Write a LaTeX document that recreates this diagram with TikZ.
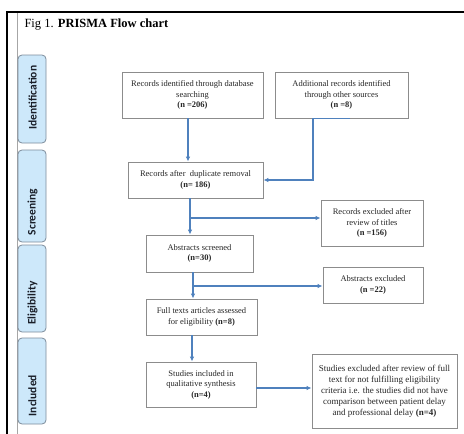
\documentclass[tikz,border=0pt]{standalone}
\usepackage{fontspec}
\setmainfont{Liberation Serif}
\newfontfamily\tabfont{Carlito}
\usepackage{tikz}
\usetikzlibrary{arrows.meta,positioning}
\definecolor{flowblue}{RGB}{79,129,189}
\definecolor{tabfill}{RGB}{205,232,250}
\definecolor{tabedge}{RGB}{125,140,155}
\definecolor{tabink}{RGB}{25,30,40}
\definecolor{boxedge}{RGB}{140,140,140}

\begin{document}
\begin{tikzpicture}[x=1pt,y=-1pt,
  box/.style={draw=boxedge,line width=0.8pt,align=center,inner sep=0pt,text=black!85,font=\fontsize{8.5}{10.5}\selectfont},
  tabbox/.style={draw=tabedge,fill=tabfill,rounded corners=4pt,line width=0.8pt,minimum width=28pt,inner sep=0pt},
  tabtext/.style={rotate=90,inner sep=0pt,text=tabink,font=\tabfont\bfseries\fontsize{11.5}{12}\selectfont},
  flow/.style={draw=flowblue,line width=1.3pt,-{Latex[length=5pt,width=4.5pt]}}]
\useasboundingbox (0,0) rectangle (464,434);
% frame of the figure
\draw[line width=2.5pt] (7,434) -- (7,12) -- (464,12);
\draw[black!35,line width=0.6pt] (17,13) -- (17,434);
\node[anchor=base west,font=\fontsize{12.5}{14}\selectfont] (title) at (21,27) {Fig 1. \textbf{PRISMA Flow chart}};
% stage tabs
\node[tabbox,minimum height=88pt] (identification) at (32,99) {};
\node[tabbox,minimum height=92pt] (screening) at (32,196) {};
\node[tabbox,minimum height=87pt] (eligibility) at (32,288.5) {};
\node[tabbox,minimum height=86pt] (includedtab) at (32,381) {};
\node[tabtext] (identificationlabel) at (32.5,97.5) {Identification};
\node[tabtext] (screeninglabel) at (32.5,212) {Screening};
\node[tabtext] (eligibilitylabel) at (32.5,303) {Eligibility};
\node[tabtext] (includedlabel) at (32.5,395.5) {Included};
% boxes
\node[box,minimum width=141pt,minimum height=46pt] (database) at (192.5,95) {Records identified through database\\searching\\\textbf{(n =206)}};
\node[box,minimum width=133pt,minimum height=46pt] (othersources) at (341.5,95) {Additional records identified\\through other sources\\\textbf{(n =8)}};
\node[box,minimum width=135pt,minimum height=36pt] (duplicates) at (195.5,180) {Records after\ \ duplicate removal\\\textbf{(n= 186)}};
\node[box,minimum width=102pt,minimum height=46pt] (titlesexcl) at (372,223) {Records excluded after\\review of titles\\\textbf{(n =156)}};
\node[box,minimum width=107pt,minimum height=37pt] (abstracts) at (199.5,253.5) {Abstracts screened\\\textbf{(n=30)}};
\node[box,minimum width=100pt,minimum height=36pt] (abstractsexcl) at (373,285) {Abstracts excluded\\\textbf{(n =22)}};
\node[box,minimum width=111pt,minimum height=36pt] (fulltext) at (201.5,317) {Full texts articles assessed\\for eligibility \textbf{(n=8)}};
\node[box,minimum width=110pt,minimum height=45pt] (included) at (201,384.5) {Studies included in\\qualitative synthesis\\\textbf{(n=4)}};
\node[box,minimum width=145pt,minimum height=74pt,font=\fontsize{9}{11}\selectfont] (fulltextexcl) at (384.5,391) {Studies excluded after review of full\\text for not fulfilling eligibility\\criteria i.e. the studies did not have\\comparison between patient delay\\and professional delay \textbf{(n=4)}};
% connectors
\draw[flow] ([xshift=-4.5pt]database.south) -- ([xshift=-7.5pt]duplicates.north);
\draw[flow] ([xshift=8.5pt]othersources.south) -- ++(-37,0) |- (duplicates.east);
\coordinate (split1) at (190,218);
\draw[flow] ([xshift=-5.5pt]duplicates.south) -- ([xshift=-9.5pt]abstracts.north);
\draw[flow] (split1) -- (split1 -| titlesexcl.west);
\coordinate (split2) at (193,286);
\draw[flow] ([xshift=-6.5pt]abstracts.south) -- ([xshift=-8.5pt]fulltext.north);
\draw[flow] (split2) -- (split2 -| abstractsexcl.west);
\draw[flow] ([xshift=-9.5pt]fulltext.south) -- ([xshift=-9pt]included.north);
\draw[flow] ([yshift=-3.5pt]included.east) -- ([yshift=-3.5pt]included.east -| fulltextexcl.west);
\end{tikzpicture}
\end{document}
